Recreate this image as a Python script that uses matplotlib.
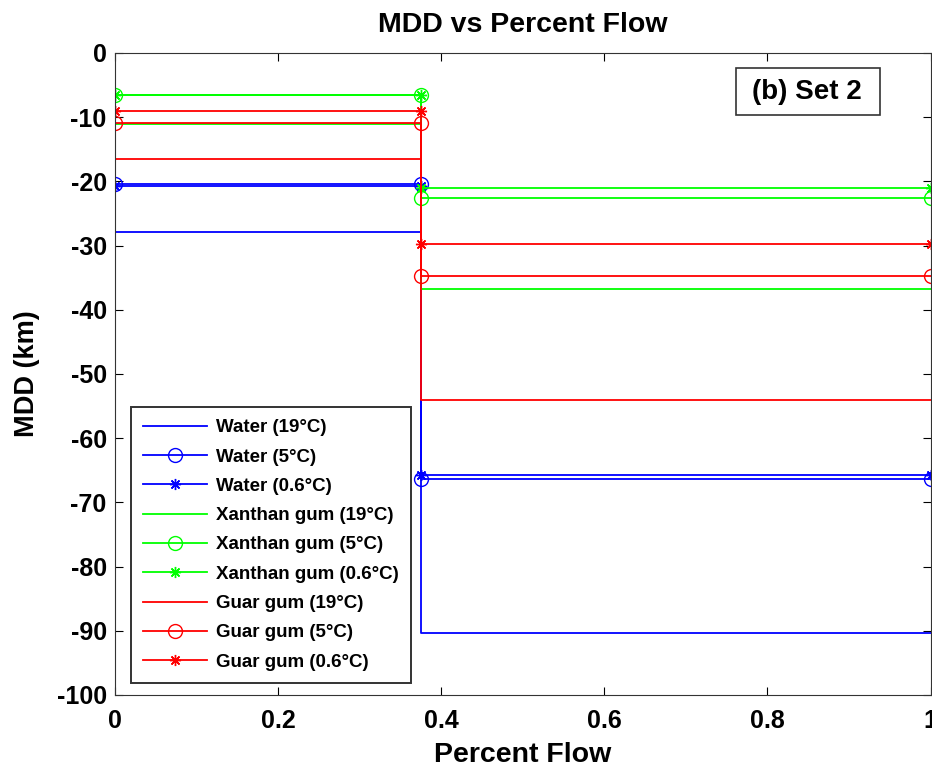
import matplotlib
matplotlib.use("Agg")
import matplotlib.pyplot as plt
from matplotlib.patches import Rectangle
import numpy as np

plt.rcParams['font.family'] = ['Liberation Sans', 'DejaVu Sans']
plt.rcParams['font.weight'] = 'bold'
plt.rcParams['axes.unicode_minus'] = False

# Percent flow breakpoints: first segment 0 -> 0.375, second 0.375 -> 1
flow_breaks = [0.0, 0.375, 1.0]

labels = ["Water (19°C)", "Water (5°C)", "Water (0.6°C)",
          "Xanthan gum (19°C)", "Xanthan gum (5°C)", "Xanthan gum (0.6°C)",
          "Guar gum (19°C)", "Guar gum (5°C)", "Guar gum (0.6°C)"]

# MDD (km) for the two flow segments
water_19 = [-27.9, -90.4]
water_5 = [-20.4, -66.4]
water_06 = [-20.7, -65.7]
xanthan_19 = [-11.1, -36.7]
xanthan_5 = [-6.6, -22.6]
xanthan_06 = [-6.5, -21.1]
guar_19 = [-16.5, -54.0]
guar_5 = [-10.9, -34.8]
guar_06 = [-9.1, -29.8]

series = [water_19, water_5, water_06, xanthan_19, xanthan_5, xanthan_06,
          guar_19, guar_5, guar_06]
colors = ['#0000ff'] * 3 + ['#00ff00'] * 3 + ['#ff0000'] * 3
markers = ['None', 'o', (8, 2, 0)] * 3

fig = plt.figure(figsize=(9.32, 7.67), dpi=100)
ax = fig.add_axes([0.1234, 0.094, 0.875, 0.837])

xs = [flow_breaks[0], flow_breaks[1], flow_breaks[1], flow_breaks[2]]
for vals, lab, c, m in zip(series, labels, colors, markers):
    ys = [vals[0], vals[0], vals[1], vals[1]]
    ax.plot(xs, ys, color=c, lw=1.3, marker=m, markersize=10 if m == 'o' else 8,
            mfc='none', mec=c, mew=1.0, label=lab)

ax.set_xlim(0, 1)
ax.set_ylim(-100, 0)
ax.set_xticks([0, 0.2, 0.4, 0.6, 0.8, 1.0])
ax.set_xticklabels(['0', '0.2', '0.4', '0.6', '0.8', '1'])
ax.set_yticks(np.arange(-100, 1, 10))
ax.tick_params(direction='in', top=True, right=True, length=6, labelsize=18,
               width=0.8)
ax.tick_params(axis='x', pad=10)
ax.tick_params(axis='y', pad=6)
for lbl in ax.get_xticklabels() + ax.get_yticklabels():
    lbl.set_fontweight('bold')
for s in ax.spines.values():
    s.set_linewidth(0.8)
    s.set_color('#333333')

ax.set_title("MDD vs Percent Flow", fontsize=20.5, fontweight='bold', pad=15)
ax.set_xlabel("Percent Flow", fontsize=20.5, fontweight='bold')
ax.set_ylabel("MDD (km)", fontsize=19.5, fontweight='bold')
ax.xaxis.set_label_coords(0.5, -0.0732)
ax.yaxis.set_label_coords(-0.092, 0.5)

leg = ax.legend(loc='lower left', bbox_to_anchor=(0.0196, 0.0187), borderaxespad=0,
                prop={'weight': 'bold', 'size': 13.5}, fancybox=False,
                edgecolor='#333333', framealpha=1, handlelength=3.4,
                labelspacing=0.65, borderpad=0.65, handletextpad=0.5)
leg.get_frame().set_linewidth(1.4)

ax.add_patch(Rectangle((0.761, 0.9034), 0.1765, 0.0732, transform=ax.transAxes,
                       fc='white', ec='#333333', lw=1.2, zorder=5))
ax.text(0.849, 0.9395, "(b) Set 2", transform=ax.transAxes, fontsize=20,
        fontweight='bold', ha='center', va='center', zorder=6)

fig.savefig("out.png", dpi=100)
